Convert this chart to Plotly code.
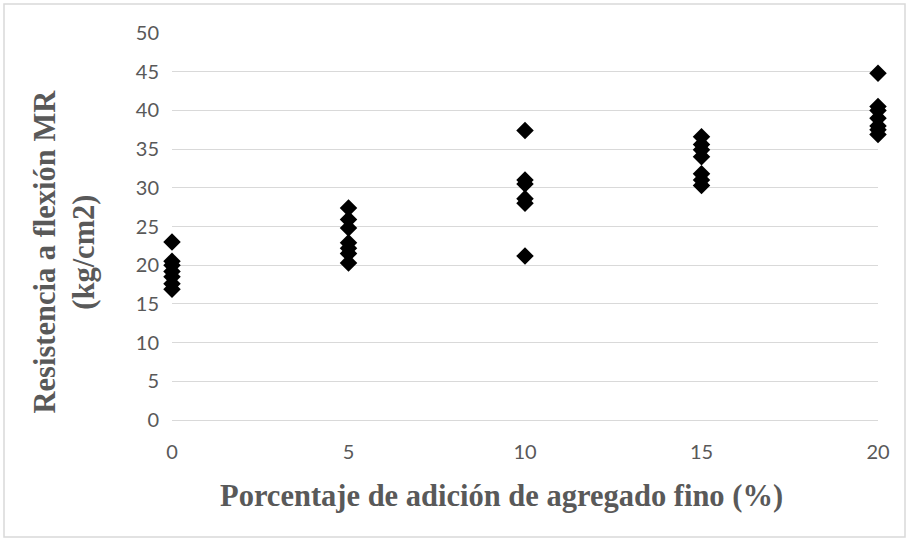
import plotly.graph_objects as go

# Porcentaje de adición de agregado fino (%) and measured flexural strength
adicion = [0, 5, 10, 15, 20]
mr_0 = [23.0, 20.5, 20.0, 19.2, 18.5, 17.6, 16.9]
mr_5 = [27.4, 25.9, 24.8, 22.9, 22.2, 21.5, 20.3]
mr_10 = [37.4, 31.0, 30.5, 28.6, 28.0, 21.2]
mr_15 = [36.6, 35.6, 34.9, 34.0, 31.8, 31.0, 30.3]
mr_20 = [44.8, 40.5, 40.0, 39.0, 38.0, 37.5, 36.9]

y_ticks = list(range(0, 51, 5))
x_ticks = [0, 5, 10, 15, 20]

groups = [mr_0, mr_5, mr_10, mr_15, mr_20]
xs, ys = [], []
for a, vals in zip(adicion, groups):
    xs += [a] * len(vals)
    ys += vals

grid = "#d9d9d9"
tick_color = "#595959"

fig = go.Figure()
fig.add_trace(go.Scatter(
    x=xs, y=ys, mode="markers",
    marker=dict(symbol="diamond", size=13.5, color="black",
                line=dict(width=0)),
    cliponaxis=False, showlegend=False,
))

fig.update_layout(
    width=908, height=540,
    margin=dict(l=172, r=30, t=33, b=120),
    paper_bgcolor="white", plot_bgcolor="white",
    font=dict(family="Lato", size=20, color=tick_color),
    xaxis=dict(range=[0, 20], tickvals=x_ticks, showgrid=False,
               zeroline=False, showline=False, ticks="",
               ticklabelstandoff=18,
               tickfont=dict(family="Lato", size=20, color=tick_color)),
    yaxis=dict(range=[0, 50], tickvals=y_ticks, showgrid=True,
               gridcolor=grid, gridwidth=1, zeroline=True,
               zerolinecolor=grid, zerolinewidth=1,
               showline=False, ticks="", ticklabelstandoff=12,
               tickfont=dict(family="Lato", size=20, color=tick_color)),
    shapes=[dict(type="rect", xref="paper", yref="paper",
                 x0=(4 - 172) / 706, x1=(905 - 172) / 706,
                 y0=(420 - 537) / 387, y1=(420 - 4) / 387,
                 line=dict(color=grid, width=1.5), layer="below")],
    annotations=[
        dict(text="<b>Porcentaje de adición de agregado fino (%)</b>",
             xref="paper", yref="paper", x=0.5, y=0, yanchor="middle",
             xshift=-24, yshift=-76, showarrow=False,
             font=dict(family="Liberation Serif", size=30.5, color=tick_color)),
        dict(text="<b>Resistencia a flexión MR<br>(kg/cm2)</b>",
             xref="paper", yref="paper", x=0, y=0.5, xanchor="center",
             yanchor="middle", xshift=-108, yshift=-25, textangle=-90,
             showarrow=False,
             font=dict(family="Liberation Serif", size=30.5, color=tick_color)),
    ],
)

fig.write_html("out.html")
